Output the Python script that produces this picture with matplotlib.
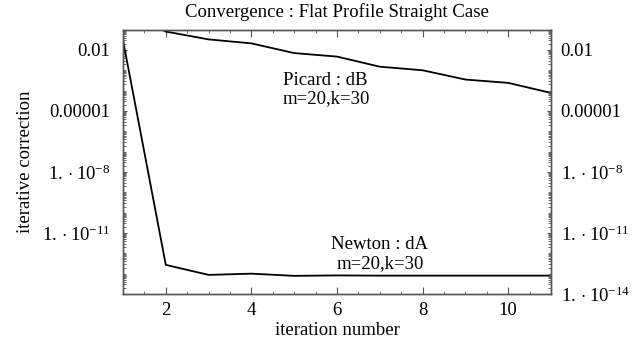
import matplotlib
matplotlib.use('Agg')
from matplotlib import pyplot as plt
from matplotlib.ticker import FixedLocator, MultipleLocator
import numpy as np

# iteration numbers and corrections
iters = [1, 2, 3, 4, 5, 6, 7, 8, 9, 10, 11]
newton_dA = [3e-2, 2.7e-13, 8.7e-14, 1.0e-13, 7.8e-14, 8.2e-14, 8.0e-14, 8.0e-14, 8.0e-14, 8.0e-14, 8.0e-14]
picard_dB = [1.0, 8.0e-2, 3.3e-2, 2.1e-2, 7.0e-3, 4.7e-3, 1.5e-3, 1.0e-3, 3.5e-4, 2.4e-4, 7.7e-5]

ytick_vals = [1e-2, 1e-5, 1e-8, 1e-11, 1e-14]
ytick_left = ['0.01', '0.00001', r'$1.\cdot10^{-8}$', r'$1.\cdot10^{-11}$', '']
ytick_right = ['0.01', '0.00001', r'$1.\cdot10^{-8}$', r'$1.\cdot10^{-11}$', r'$1.\cdot10^{-14}$']

plt.rcParams['font.family'] = ['Liberation Serif', 'DejaVu Serif']
plt.rcParams['mathtext.fontset'] = 'custom'
plt.rcParams['mathtext.rm'] = 'Liberation Serif'
plt.rcParams['mathtext.it'] = 'Liberation Serif'
plt.rcParams['font.size'] = 13.5

fig = plt.figure(figsize=(6.34, 3.48), dpi=100)
ax = fig.add_axes([123/634, 1 - 294/348, (551 - 123)/634, (294 - 30)/348])

ax.plot(iters, newton_dA, color='black', lw=1.3)
ax.plot(iters, picard_dB, color='black', lw=1.3)

ax.set_yscale('log')
ax.set_xlim(1, 11)
ax.set_ylim(1e-14, 10**-1.02)

minor_y = []
for e in range(-14, 0):
    for s in range(2, 10):
        minor_y.append(s * 10.0**e)
    if e % 3 != 1:
        minor_y.append(10.0**e)
ax.yaxis.set_major_locator(FixedLocator(ytick_vals))
ax.set_yticklabels(ytick_left)
ax.yaxis.set_minor_locator(FixedLocator(minor_y))
ax.yaxis.set_minor_formatter(plt.NullFormatter())

ax.xaxis.set_major_locator(FixedLocator([2, 4, 6, 8, 10]))
ax.xaxis.set_minor_locator(MultipleLocator(0.5))

ax2 = ax.twinx()
ax2.set_position(ax.get_position())
ax2.set_yscale('log')
ax2.set_ylim(ax.get_ylim())
ax2.yaxis.set_major_locator(FixedLocator(ytick_vals))
ax2.set_yticklabels(ytick_right)
ax2.yaxis.set_minor_locator(FixedLocator(minor_y))
ax2.yaxis.set_minor_formatter(plt.NullFormatter())

for a in [ax, ax2]:
    for sp in a.spines.values():
        sp.set_color('#555555')
        sp.set_linewidth(1.0)
ax.tick_params(which='major', direction='in', length=5, width=0.8, top=True, color='#555555')
ax.tick_params(which='minor', direction='in', length=2.5, width=0.6, top=True, color='#555555')
ax.tick_params(axis='x', which='major', pad=6)
ax.tick_params(axis='y', which='major', length=3, pad=9)
ax2.tick_params(which='major', direction='in', length=3, width=0.8, color='#555555', pad=7)
ax2.tick_params(which='minor', direction='in', length=2, width=0.6, color='#555555')

ax.text(4.74, 10**-3.95, 'Picard : dB\nm=20,k=30', ha='left', va='center', linespacing=1.15)
ax.text(7.0, 10**-12.02, 'Newton : dA\nm=20,k=30', ha='center', va='center', linespacing=1.15)

ax.set_xlabel('iteration number', labelpad=2)
ax.set_ylabel('iterative correction', labelpad=6)
fig.text(337/634, 1 - 12/348, 'Convergence : Flat Profile Straight Case', ha='center', va='center')

fig.savefig('out.png', dpi=100)
